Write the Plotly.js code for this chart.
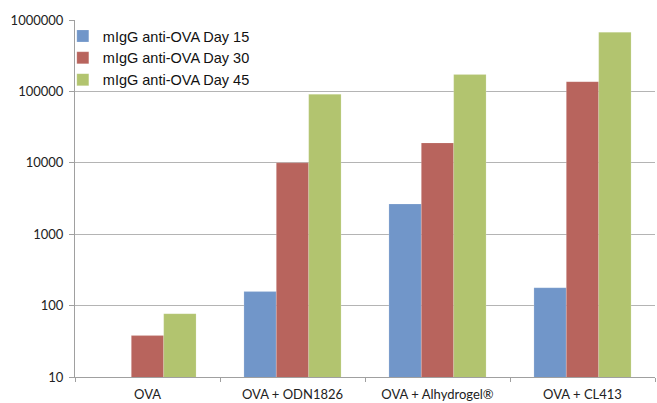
<!DOCTYPE html>
<html>
<head>
<meta charset="utf-8">
<script src="https://cdn.plot.ly/plotly-3.0.1.min.js"></script>
<style>html,body{margin:0;padding:0;background:#fff;}#chart{width:657px;height:403px;}</style>
</head>
<body>
<div id="chart"></div>
<script>
const categories = ["OVA", "OVA + ODN1826", "OVA + Alhydrogel®", "OVA + CL413"];
const seriesNames = ["mIgG anti-OVA Day 15", "mIgG anti-OVA Day 30", "mIgG anti-OVA Day 45"];
const day15 = [null, 157, 2650, 178];
const day30 = [38, 10000, 19000, 137000];
const day45 = [77, 91000, 172000, 675000];
const colors = ["#7196C9", "#B8645D", "#B2C46F"];
const yTickVals = [10, 100, 1000, 10000, 100000, 1000000];
const yTickText = ["10", "100", "1000", "10000", "100000", "1000000"];

const seriesData = [day15, day30, day45];
const traces = seriesData.map((vals, i) => ({
  type: "bar",
  name: seriesNames[i],
  x: categories,
  y: vals,
  marker: {color: colors[i], line: {color: "rgba(255,255,255,0.35)", width: 0.5}},
  hoverinfo: "none"
}));

const layout = {
  width: 657,
  height: 403,
  margin: {l: 75, r: 2, t: 20, b: 26},
  paper_bgcolor: "#fff",
  plot_bgcolor: "#fff",
  barmode: "group",
  bargap: 0.33,
  bargroupgap: 0,
  showlegend: true,
  legend: {
    x: -0.021, y: 1, xanchor: "left", yanchor: "top",
    bgcolor: "rgba(255,255,255,0)",
    font: {family: "Liberation Sans, Arial, sans-serif", size: 14.5, color: "#111"},
    itemwidth: 30,
    traceorder: "normal"
  },
  xaxis: {
    type: "category",
    tickson: "boundaries",
    ticks: "outside",
    ticklen: 4,
    tickcolor: "#a0a0a0",
    showline: true,
    linecolor: "#a0a0a0",
    linewidth: 1,
    showgrid: false,
    ticklabelstandoff: 5,
    tickfont: {family: "Lato, sans-serif", size: 13, color: "#222"}
  },
  yaxis: {
    type: "log",
    range: [1, 6],
    tickvals: yTickVals,
    ticktext: yTickText,
    ticks: "outside",
    ticklen: 5,
    tickcolor: "#a0a0a0",
    showline: true,
    linecolor: "#a0a0a0",
    linewidth: 1,
    showgrid: true,
    gridcolor: "#b4b4b4",
    gridwidth: 1,
    zeroline: false,
    ticklabelstandoff: 3,
    tickfont: {family: "Lato, sans-serif", size: 13, color: "#222"}
  }
};

Plotly.newPlot("chart", traces, layout, {displayModeBar: false, staticPlot: true});
</script>
</body>
</html>
